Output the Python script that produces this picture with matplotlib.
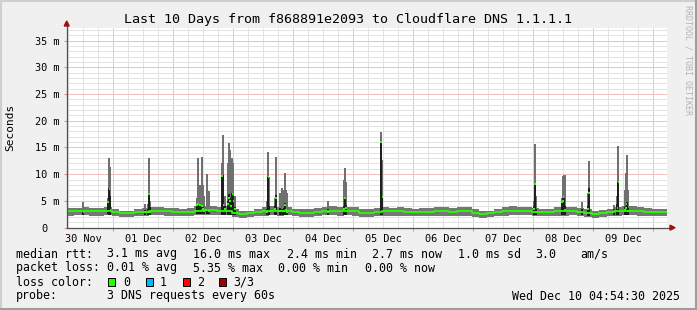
import matplotlib
matplotlib.use('Agg')
import matplotlib.pyplot as plt
from matplotlib.ticker import FixedLocator, FixedFormatter
from matplotlib.transforms import ScaledTranslation
import numpy as np

# time axis: days since 30 Nov 00:00, ten day window ending Dec 10 04:54
start_day = 0.222
bin_days = 0.125  # 3 hour bins for the baseline smoke

# baseline median rtt (ms), 3-hour bins
median_ms = [
    3.05, 3.05, 3.15, 3.05, 3.05, 3.15, 2.85, 2.65,
    2.65, 2.85, 2.95, 3.05, 3.15, 3.05, 2.95, 2.85,
    2.85, 3.15, 3.25, 3.25, 3.15, 3.15, 2.75, 2.55,
    2.65, 2.85, 3.05, 3.15, 3.05, 3.15, 2.85, 2.75,
    2.75, 2.95, 3.15, 3.15, 3.05, 3.15, 3.05, 2.75,
    2.75, 2.95, 3.05, 3.05, 3.05, 2.95, 2.85, 2.85,
    2.85, 3.05, 3.05, 2.95, 3.05, 3.05, 2.75, 2.55,
    2.65, 2.85, 3.05, 3.15, 3.15, 3.15, 2.95, 2.85,
    2.85, 3.05, 3.05, 3.15, 2.95, 2.75, 2.55, 2.65,
    2.85, 3.05, 3.15, 3.15, 3.05, 2.95, 2.85, 2.85,
]
smoke_lo = [
    2.2, 2.3, 2.3, 2.2, 2.2, 2.3, 2.1, 1.9,
    1.9, 2.1, 2.2, 2.3, 2.3, 2.2, 2.2, 2.1,
    2.1, 2.3, 2.4, 2.4, 2.3, 2.3, 2.0, 1.8,
    1.9, 2.1, 2.2, 2.3, 2.2, 2.3, 2.1, 2.0,
    2.0, 2.2, 2.3, 2.3, 2.2, 2.3, 2.2, 2.0,
    2.0, 2.2, 2.2, 2.2, 2.2, 2.2, 2.1, 2.1,
    2.1, 2.2, 2.2, 2.2, 2.2, 2.2, 2.0, 1.8,
    1.9, 2.1, 2.2, 2.3, 2.3, 2.3, 2.2, 2.1,
    2.1, 2.2, 2.2, 2.3, 2.2, 2.0, 1.8, 1.9,
    2.1, 2.2, 2.3, 2.3, 2.2, 2.2, 2.1, 2.1,
]
smoke_hi = [
    3.6, 3.7, 3.8, 3.7, 3.6, 3.9, 3.5, 3.2,
    3.2, 3.5, 3.6, 3.8, 3.9, 3.7, 3.6, 3.5,
    3.6, 4.0, 4.1, 4.1, 3.9, 4.0, 3.4, 3.1,
    3.2, 3.5, 3.8, 4.0, 3.8, 3.9, 3.5, 3.4,
    3.4, 3.7, 3.9, 4.0, 3.8, 3.9, 3.8, 3.4,
    3.4, 3.6, 3.8, 3.7, 3.8, 3.7, 3.5, 3.6,
    3.6, 3.9, 3.8, 3.7, 3.8, 3.9, 3.4, 3.1,
    3.2, 3.5, 3.8, 4.0, 3.9, 3.9, 3.7, 3.5,
    3.5, 3.8, 3.8, 3.9, 3.7, 3.4, 3.2, 3.3,
    3.5, 3.8, 4.0, 4.0, 3.8, 3.7, 3.5, 3.4,
]

# latency spikes: time (days), smoke bottom / top, dense part top, median (ms)
spike_day = [0.499, 0.915, 0.932, 0.949, 1.527, 1.577, 1.594, 1.610,
             2.394, 2.415, 2.444, 2.472, 2.494, 2.510, 2.555, 2.594,
             2.815, 2.832, 2.860, 2.910, 2.927, 2.944, 2.960, 2.982, 3.002, 3.027,
             3.565, 3.582, 3.599, 3.694, 3.710,
             3.777, 3.810, 3.844, 3.860, 3.877, 3.894,
             4.582, 4.844, 4.860, 4.877, 5.460, 5.482,
             8.010, 8.027, 8.044, 8.472, 8.489, 8.505, 8.527,
             8.805, 8.910, 8.927, 9.349, 9.399, 9.416,
             9.527, 9.544, 9.555, 9.577]
spike_lo = [2.4, 2.5, 2.4, 2.4, 2.3, 2.4, 2.4, 2.4,
            2.5, 2.5, 2.5, 2.5, 2.5, 2.5, 2.5, 2.5,
            2.4, 2.4, 2.3, 2.4, 2.4, 2.4, 2.4, 2.4, 2.3, 2.3,
            2.4, 2.4, 2.4, 2.4, 2.4,
            2.4, 2.4, 2.4, 2.4, 2.4, 2.4,
            2.4, 2.3, 2.3, 2.3, 2.3, 2.3,
            2.3, 2.3, 2.3, 2.4, 2.4, 2.4, 2.4,
            2.3, 2.2, 2.2, 2.4, 2.4, 2.4,
            2.4, 2.4, 2.4, 2.4]
spike_max = [4.7, 5.5, 13.0, 11.3, 4.4, 4.5, 13.0, 5.0,
             5.5, 13.0, 8.0, 13.3, 8.0, 6.0, 10.0, 6.8,
             12.0, 17.3, 6.0, 12.0, 15.8, 14.6, 11.5, 13.0, 12.0, 6.0,
             5.0, 14.2, 9.5, 5.5, 13.3,
             6.5, 7.5, 7.0, 10.2, 7.0, 6.5,
             5.0, 9.0, 11.1, 8.5, 17.8, 12.7,
             5.0, 15.7, 6.0, 5.5, 9.6, 9.9, 9.9,
             4.7, 6.5, 12.5, 4.2, 6.0, 15.3,
             7.0, 10.2, 13.6, 7.0]
spike_dark = [3.3, 5.0, 7.4, 6.0, 3.3, 3.5, 6.4, 3.8,
              4.5, 4.6, 4.5, 4.3, 3.8, 3.5, 3.5, 3.4,
              9.8, 9.8, 4.0, 5.0, 6.2, 5.5, 4.5, 6.5, 6.0, 3.8,
              3.5, 9.5, 4.0, 4.0, 6.1,
              3.6, 3.5, 3.6, 4.6, 3.5, 3.2,
              3.5, 4.0, 5.5, 4.2, 16.1, 6.0,
              4.0, 8.3, 3.5, 5.0, 5.5, 5.5, 4.0,
              3.4, 4.0, 7.4, 3.5, 4.5, 8.6,
              3.8, 4.0, 4.7, 3.6]
spike_med = [2.9, 4.7, 7.2, 3.3, 3.0, 3.0, 6.2, 3.0,
             4.2, 4.4, 4.2, 4.0, 3.5, 3.2, 3.3, 3.1,
             9.6, 4.3, 3.5, 4.5, 5.6, 5.0, 4.0, 6.3, 5.0, 3.5,
             3.0, 9.4, 3.2, 3.5, 5.5,
             3.2, 3.1, 3.2, 4.3, 3.3, 3.0,
             3.0, 3.5, 5.5, 3.6, 16.0, 5.7,
             3.5, 8.2, 3.0, 4.8, 5.0, 5.8, 3.3,
             3.0, 3.5, 6.4, 3.1, 3.6, 8.6,
             3.3, 3.6, 4.5, 3.2]

day_labels = ['30 Nov', '01 Dec', '02 Dec', '03 Dec', '04 Dec',
              '05 Dec', '06 Dec', '07 Dec', '08 Dec', '09 Dec']
y_ticks = [0, 5, 10, 15, 20, 25, 30, 35]
y_labels = ['0', '5 m', '10 m', '15 m', '20 m', '25 m', '30 m', '35 m']

W, H = 697, 310
mono = 'DejaVu Sans Mono'
plt.rcParams['font.family'] = mono


def fx(x):
    return x / W


def fy(y):
    return 1 - y / H


fig = plt.figure(figsize=(W / 100, H / 100), dpi=100, facecolor='#F0F0F0')
ax = fig.add_axes([fx(66.7), fy(227.6), 600 / W, 199.3 / H])
ax.set_facecolor('white')
ax.set_xlim(start_day, start_day + 10)
ax.set_ylim(0, 37.3)
for s in ax.spines.values():
    s.set_visible(False)

# grid: midnight / 5 ms red, 6 h / 1 ms gray
n_days = len(day_labels)
ax.xaxis.set_major_locator(FixedLocator(np.arange(1, n_days + 1)))
ax.xaxis.set_major_formatter(FixedFormatter([''] * n_days))
six_h = [d + h for d in range(n_days + 1) for h in (0.25, 0.5, 0.75)]
ax.xaxis.set_minor_locator(FixedLocator(six_h))
ax.xaxis.set_minor_formatter(FixedFormatter(
    [day_labels[int(v)] if abs(v % 1 - 0.5) < 1e-6 and int(v) < n_days else ''
     for v in six_h]))
ax.yaxis.set_major_locator(FixedLocator(y_ticks))
ax.yaxis.set_major_formatter(FixedFormatter(y_labels))
ax.yaxis.set_minor_locator(FixedLocator([v for v in range(0, 38) if v % 5]))

# dotted 1px grid reads as a faint solid tone at this size
ax.grid(True, which='minor', color='#E3E3E3', linestyle='-', linewidth=0.72)
ax.grid(True, which='major', color='#F3C0C0', linestyle='-', linewidth=0.72)
ax.set_axisbelow(True)
ax.tick_params(which='major', length=2, color='#E89090', labelsize=7.4, pad=3.5)
ax.tick_params(which='minor', length=0, labelsize=7.4, pad=4.5)

# "0" label sits two columns further left (rrdtool's empty unit)
zero_lab = ax.yaxis.get_major_ticks()[0].label1
zero_lab.set_transform(zero_lab.get_transform()
                       + ScaledTranslation(-12 / 100, 0, fig.dpi_scale_trans))

# baseline smoke + median
edges = start_day + np.arange(len(median_ms) + 1) * bin_days
ax.fill_between(edges, smoke_lo + smoke_lo[-1:], smoke_hi + smoke_hi[-1:],
                step='post', color='#767676', linewidth=0)

px = 1 / 60.0
sd = np.array(spike_day)
ax.vlines(sd, spike_lo, spike_max, color='#707070', linewidth=1.1, antialiased=False)
ax.vlines(sd, spike_lo, spike_dark, color='#1E1E1E', linewidth=1.1, antialiased=False)

ax.step(edges, median_ms + median_ms[-1:], where='post', color='#26FF00',
        linewidth=1.3)
ax.hlines(spike_med, sd - px * 0.8, sd + px * 0.8, color='#26FF00', linewidth=1.5)

# axis lines with arrows
ax.plot([0, 0], [0, 1.02], transform=ax.transAxes, color='#505050',
        linewidth=0.9, clip_on=False)
ax.plot([0, 1.008], [0, 0], transform=ax.transAxes, color='#505050',
        linewidth=0.9, clip_on=False)
fig.patches.append(plt.Polygon([[fx(64.2), fy(26)], [fx(69.2), fy(26)], [fx(66.7), fy(21)]],
                               closed=True, color='#A01010', transform=fig.transFigure))
fig.patches.append(plt.Polygon([[fx(670), fy(225.2)], [fx(670), fy(230.2)], [fx(675), fy(227.7)]],
                               closed=True, color='#A01010', transform=fig.transFigure))

# titles
fig.text(0.5, fy(19), 'Last 10 Days from f868891e2093 to Cloudflare DNS 1.1.1.1',
         ha='center', va='center', fontsize=9.6)
fig.text(fx(10), fy(127), 'Seconds', rotation=90, ha='center', va='center',
         fontsize=8)
fig.text(fx(688), fy(5), 'RRDTOOL / TOBI OETIKER', rotation=270, ha='center',
         va='top', fontsize=6, color='#B4B4B4')

# legend block
fs = 8.4
rows = [
    (254, [(16, 'median rtt:'), (107, '3.1 ms avg'), (193, '16.0 ms max'),
           (287, '2.4 ms min'), (372, '2.7 ms now'), (458, '1.0 ms sd'),
           (535, '3.0'), (580, 'am/s')]),
    (268, [(16, 'packet loss:'), (107, '0.01 % avg'), (193, '5.35 % max'),
           (278, '0.00 % min'), (365, '0.00 % now')]),
    (282, [(16, 'loss color:'), (123, '0'), (160, '1'), (197, '2'), (233, '3/3')]),
    (296, [(16, 'probe:'), (107, '3 DNS requests every 60s')]),
]
for y, items in rows:
    for x, s in items:
        fig.text(fx(x), fy(y), s, ha='left', va='center', fontsize=fs)
fig.text(fx(680), fy(296), 'Wed Dec 10 04:54:30 2025', ha='right', va='center',
         fontsize=fs)

loss_colors = ['#26FF00', '#00B8FF', '#FF0000', '#A00000']
box_x = [108, 146, 183, 219]
for bx, c in zip(box_x, loss_colors):
    fig.patches.append(plt.Rectangle((fx(bx), fy(286)), 7 / W, 8 / H,
                                     facecolor=c, edgecolor='black', linewidth=0.7,
                                     transform=fig.transFigure))

# 3d frame
fig.lines.append(plt.Line2D([0, 1], [fy(1), fy(1)], color='#CFCFCF', linewidth=1.5,
                            transform=fig.transFigure))
fig.lines.append(plt.Line2D([fx(1), fx(1)], [0, 1], color='#CFCFCF', linewidth=1.5,
                            transform=fig.transFigure))
fig.lines.append(plt.Line2D([0, 1], [fy(309), fy(309)], color='#9E9E9E', linewidth=1.5,
                            transform=fig.transFigure))
fig.lines.append(plt.Line2D([fx(696), fx(696)], [0, 1], color='#9E9E9E', linewidth=1.5,
                            transform=fig.transFigure))

fig.savefig('out.png', dpi=100, facecolor=fig.get_facecolor())
plt.close(fig)
